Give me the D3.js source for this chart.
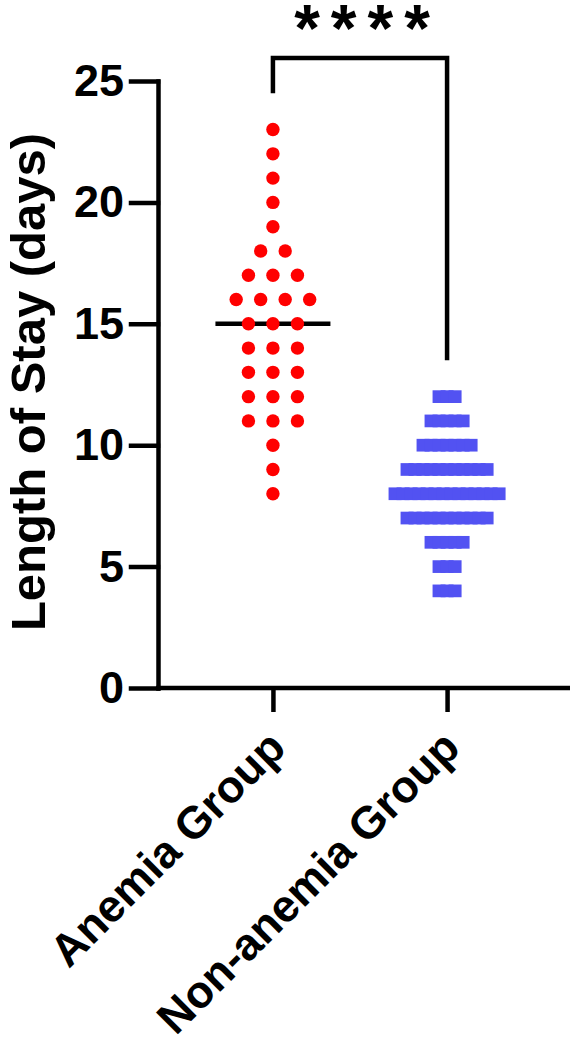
<!DOCTYPE html>
<html>
<head>
<meta charset="utf-8">
<script src="https://cdn.jsdelivr.net/npm/d3@7"></script>
<style>
  body { margin: 0; background: #fff; }
  text { font-family: "Liberation Sans", Arial, sans-serif; font-weight: bold; }
</style>
</head>
<body>
<div id="chart"></div>
<script>
// Data
var groups = ["Anemia Group", "Non-anemia Group"];
var anemiaValues = [23, 22, 21, 20, 19, 18, 18, 17, 17, 17, 16, 16, 16, 16,
                    15, 15, 15, 14, 14, 14, 13, 13, 13, 12, 12, 12, 11, 11, 11, 10, 9, 8];
var anemiaMean = 15;
var nonAnemiaLevels = [12, 11, 10, 9, 8, 7, 6, 5, 4];
var nonAnemiaCounts = [3, 5, 7, 11, 14, 11, 5, 3, 3];
var yTicks = [0, 5, 10, 15, 20, 25];
var sigLabel = "****";
var bracketTop = 25.95;
var bracketEnds = [24.5, 13.5];

var width = 570, height = 1048;
var axisX = 158, axisY = 688;

var svg = d3.select("#chart")
            .append("svg")
            .attr("width", width)
            .attr("height", height);

// Scales
var yScale = d3.scaleLinear()
               .domain([0, 25])
               .range([axisY, 81]);

var xScale = d3.scalePoint()
               .domain(groups)
               .range([axisX, 562])
               .padding(0.66);

// Y axis
var yAxis = svg.append("g")
               .attr("transform", "translate(" + axisX + ",0)")
               .call(d3.axisLeft(yScale).tickValues(yTicks).tickSize(27).tickSizeOuter(0).tickPadding(7));
yAxis.selectAll("path, line")
     .attr("stroke", "#000")
     .attr("stroke-width", 4.5)
     .attr("stroke-linecap", "square");
yAxis.selectAll("text")
     .attr("fill", "#000")
     .style("font-size", "45px")
     .style("font-family", "'Liberation Sans', Arial, sans-serif")
     .style("font-weight", "bold");

// X axis
var xAxis = svg.append("g")
               .attr("transform", "translate(0," + axisY + ")")
               .call(d3.axisBottom(xScale).tickSize(24).tickSizeOuter(0).tickFormat(""));
xAxis.select(".domain").attr("d", "M" + (axisX - 2) + ",0H" + width);
xAxis.selectAll("path, line")
     .attr("stroke", "#000")
     .attr("stroke-width", 4.5);

// X labels, rotated
svg.selectAll(".xlabel")
   .data(groups)
   .enter()
   .append("text")
   .attr("class", "xlabel")
   .attr("transform", function(d) { return "translate(" + (xScale(d) + 15) + "," + (axisY + 62) + ") rotate(-45)"; })
   .attr("text-anchor", "end")
   .style("font-size", "45px")
   .text(function(d) { return d; });

// Y title
svg.append("text")
   .attr("transform", "translate(45," + 382 + ") rotate(-90)")
   .attr("text-anchor", "middle")
   .style("font-size", "49px")
   .text("Length of Stay (days)");

// Mean line for anemia group
var cx0 = xScale(groups[0]);
svg.append("line")
   .attr("x1", cx0 - 57.5)
   .attr("x2", cx0 + 57.5)
   .attr("y1", yScale(anemiaMean))
   .attr("y2", yScale(anemiaMean))
   .attr("stroke", "#000")
   .attr("stroke-width", 4.5);

// Anemia dots, spread per value row
var rowCount = d3.rollup(anemiaValues, function(v) { return v.length; }, function(d) { return d; });
var rowSeen = {};
var dotSpacing = 24.5;
var anemiaPoints = anemiaValues.map(function(v) {
	var i = rowSeen[v] || 0;
	rowSeen[v] = i + 1;
	var n = rowCount.get(v);
	return { value: v, offset: (i - (n - 1) / 2) * dotSpacing };
});

svg.selectAll(".dot")
   .data(anemiaPoints)
   .enter()
   .append("circle")
   .attr("class", "dot")
   .attr("cx", function(d) { return cx0 + d.offset; })
   .attr("cy", function(d) { return yScale(d.value); })
   .attr("r", 6.7)
   .style("fill", "#ff0000");

// Non-anemia dashes
var cx1 = xScale(groups[1]);
var dashSpacing = 8, dashW = 13, dashH = 12.7;
var nonAnemiaPoints = [];
nonAnemiaLevels.forEach(function(v, j) {
	var n = nonAnemiaCounts[j];
	for (var i = 0; i < n; i++) {
		nonAnemiaPoints.push({ value: v, offset: (i - (n - 1) / 2) * dashSpacing });
	}
});

svg.selectAll(".dash")
   .data(nonAnemiaPoints)
   .enter()
   .append("rect")
   .attr("class", "dash")
   .attr("x", function(d) { return cx1 + d.offset - dashW / 2; })
   .attr("y", function(d) { return yScale(d.value) - dashH / 2; })
   .attr("width", dashW)
   .attr("height", dashH)
   .style("fill", "#5252f2");

// Significance bracket
svg.append("path")
   .attr("d", "M" + cx0 + "," + yScale(bracketEnds[0]) +
              "V" + yScale(bracketTop) +
              "H" + cx1 +
              "V" + yScale(bracketEnds[1]))
   .attr("fill", "none")
   .attr("stroke", "#000")
   .attr("stroke-width", 4.5);

var starSpacing = 11;
svg.append("text")
   .attr("x", (cx0 + cx1) / 2 + 2 + starSpacing / 2)
   .attr("y", 51)
   .attr("text-anchor", "middle")
   .style("font-size", "66px")
   .style("letter-spacing", starSpacing + "px")
   .text(sigLabel);
</script>
</body>
</html>
